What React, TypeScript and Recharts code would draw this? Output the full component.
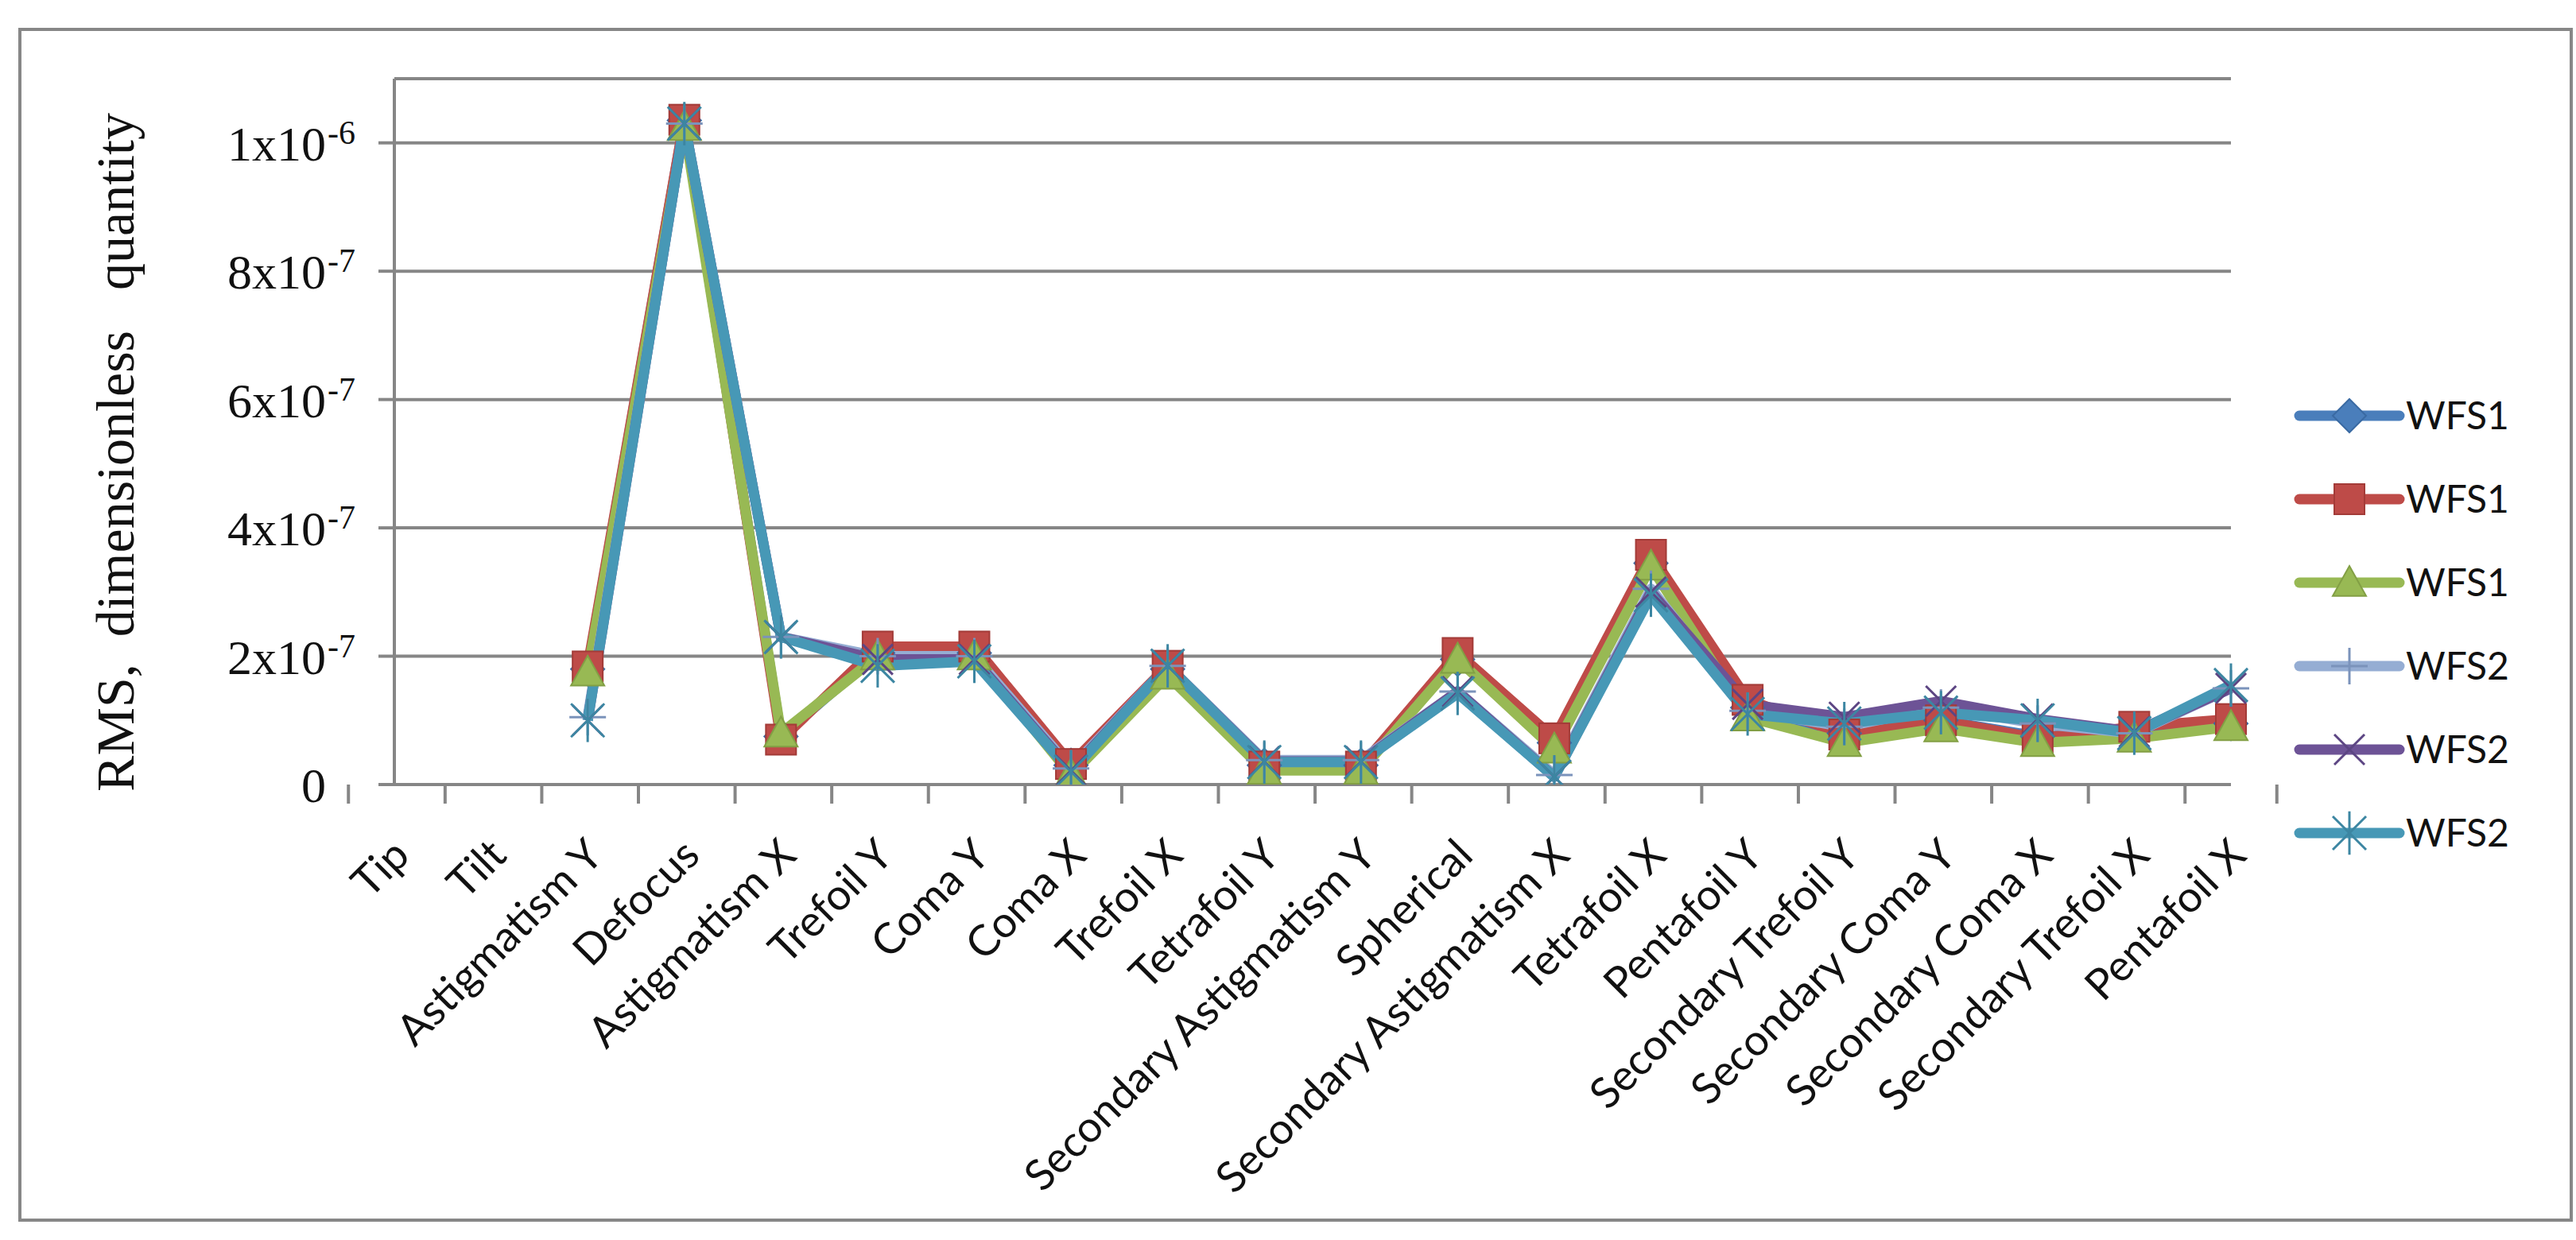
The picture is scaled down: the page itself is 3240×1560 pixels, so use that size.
import React from "react";
import { LineChart, Line, XAxis, YAxis, CartesianGrid } from "recharts";

const categories = [
  "Tip",
  "Tilt",
  "Astigmatism Y",
  "Defocus",
  "Astigmatism X",
  "Trefoil Y",
  "Coma Y",
  "Coma X",
  "Trefoil X",
  "Tetrafoil Y",
  "Secondary Astigmatism Y",
  "Spherical",
  "Secondary Astigmatism X",
  "Tetrafoil X",
  "Pentafoil Y",
  "Secondary Trefoil Y",
  "Secondary Coma Y",
  "Secondary Coma X",
  "Secondary Trefoil X",
  "Pentafoil X",
];

// values (RMS, dimensionless)
const wfs1Diamond = [null, null, 1.8e-7, 10.35e-7, 0.75e-7, 2.05e-7, 2.05e-7, 0.3e-7, 1.8e-7, 0.3e-7, 0.3e-7, 1.95e-7, 0.65e-7, 3.45e-7, 1.2e-7, 0.8e-7, 1.0e-7, 0.75e-7, 0.8e-7, 0.95e-7];
const wfs1Square = [null, null, 1.84e-7, 10.36e-7, 0.7e-7, 2.15e-7, 2.15e-7, 0.32e-7, 1.85e-7, 0.28e-7, 0.28e-7, 2.05e-7, 0.72e-7, 3.58e-7, 1.32e-7, 0.78e-7, 1.0e-7, 0.72e-7, 0.9e-7, 1.02e-7];
const wfs1Triangle = [null, null, 1.75e-7, 10.25e-7, 0.8e-7, 2.0e-7, 2.0e-7, 0.15e-7, 1.7e-7, 0.22e-7, 0.22e-7, 1.95e-7, 0.55e-7, 3.4e-7, 1.05e-7, 0.65e-7, 0.88e-7, 0.65e-7, 0.72e-7, 0.9e-7];
const wfs2Plus = [null, null, 1.05e-7, 10.3e-7, 2.3e-7, 2.0e-7, 2.0e-7, 0.25e-7, 1.85e-7, 0.38e-7, 0.38e-7, 1.45e-7, 0.15e-7, 3.05e-7, 1.15e-7, 0.9e-7, 1.2e-7, 0.95e-7, 0.8e-7, 1.5e-7];
const wfs2Cross = [null, null, 1.0e-7, 10.3e-7, 2.3e-7, 1.95e-7, 1.95e-7, 0.22e-7, 1.85e-7, 0.36e-7, 0.36e-7, 1.45e-7, 0.12e-7, 3.0e-7, 1.25e-7, 1.05e-7, 1.3e-7, 1.02e-7, 0.82e-7, 1.5e-7];
const wfs2Star = [null, null, 1.0e-7, 10.3e-7, 2.3e-7, 1.85e-7, 1.92e-7, 0.2e-7, 1.85e-7, 0.35e-7, 0.35e-7, 1.42e-7, 0.12e-7, 2.95e-7, 1.1e-7, 0.95e-7, 1.12e-7, 1.0e-7, 0.8e-7, 1.55e-7];

const yTicks = [0, 2e-7, 4e-7, 6e-7, 8e-7, 1e-6];
const yTickLabels = [
  ["0", ""],
  ["2x10", "-7"],
  ["4x10", "-7"],
  ["6x10", "-7"],
  ["8x10", "-7"],
  ["1x10", "-6"],
];

const SERIES = [
  { key: "s1", name: "WFS1", values: wfs1Diamond, color: "#4A7EBB", edge: "#3A6AA3", marker: "diamond" },
  { key: "s2", name: "WFS1", values: wfs1Square, color: "#BE4B48", edge: "#A33B38", marker: "square" },
  { key: "s3", name: "WFS1", values: wfs1Triangle, color: "#98B954", edge: "#829F44", marker: "triangle" },
  { key: "s4", name: "WFS2", values: wfs2Plus, color: "#95ADD3", edge: "#7B93BB", marker: "plus" },
  { key: "s5", name: "WFS2", values: wfs2Cross, color: "#6D5396", edge: "#5C4583", marker: "cross" },
  { key: "s6", name: "WFS2", values: wfs2Star, color: "#4798B6", edge: "#3C86A2", marker: "star" },
];

const data = categories.map((name, i) => {
  const row: Record<string, any> = { name };
  SERIES.forEach((s) => (row[s.key] = s.values[i]));
  return row;
});

const W = 3240;
const H = 1560;
const PLOT_LEFT = 496;
const PLOT_TOP = 99;
const PLOT_RIGHT = 2806;
const PLOT_BOTTOM = 987;
const GRID = "#868686";

function Marker({ shape, cx, cy, color, edge }: any) {
  if (cx == null || cy == null || isNaN(cx) || isNaN(cy)) return <g />;
  switch (shape) {
    case "diamond": {
      const h = 21;
      return <path d={`M${cx},${cy - h}L${cx + h},${cy}L${cx},${cy + h}L${cx - h},${cy}Z`} fill={color} stroke={edge} strokeWidth={2} />;
    }
    case "square": {
      const h = 19;
      return <rect x={cx - h} y={cy - h} width={2 * h} height={2 * h} fill={color} stroke={edge} strokeWidth={2} />;
    }
    case "triangle": {
      const h = 21;
      return <path d={`M${cx},${cy - h}L${cx + h},${cy + h * 0.8}L${cx - h},${cy + h * 0.8}Z`} fill={color} stroke={edge} strokeWidth={2} />;
    }
    case "plus": {
      const h = 23;
      return (
        <g stroke={edge} strokeWidth={3}>
          <line x1={cx - h} y1={cy} x2={cx + h} y2={cy} />
          <line x1={cx} y1={cy - h} x2={cx} y2={cy + h} />
        </g>
      );
    }
    case "cross": {
      const h = 19;
      return (
        <g stroke={edge} strokeWidth={3}>
          <line x1={cx - h} y1={cy - h} x2={cx + h} y2={cy + h} />
          <line x1={cx - h} y1={cy + h} x2={cx + h} y2={cy - h} />
        </g>
      );
    }
    default: {
      const h = 21;
      return (
        <g stroke={edge} strokeWidth={3}>
          <line x1={cx - h} y1={cy - h} x2={cx + h} y2={cy + h} />
          <line x1={cx - h} y1={cy + h} x2={cx + h} y2={cy - h} />
          <line x1={cx} y1={cy - h * 1.3} x2={cx} y2={cy + h * 1.3} />
        </g>
      );
    }
  }
}

function XTick({ x, y, payload, index }: any) {
  const band = (PLOT_RIGHT - PLOT_LEFT) / categories.length;
  return (
    <g>
      <line x1={x - band / 2} y1={y} x2={x - band / 2} y2={y + 24} stroke={GRID} strokeWidth={4} />
      {index === categories.length - 1 && (
        <line x1={x + band / 2} y1={y} x2={x + band / 2} y2={y + 24} stroke={GRID} strokeWidth={4} />
      )}
      <text
        transform={`translate(${x + 22},${y + 92}) rotate(-45)`}
        textAnchor="end"
        fontFamily="Lato, 'Open Sans', sans-serif"
        fontSize={54}
        fill="#111"
      >
        {payload.value}
      </text>
    </g>
  );
}

function YTick({ x, y, index }: any) {
  const [base, exp] = yTickLabels[index] || ["", ""];
  const bx = x - 66;
  return (
    <g fontFamily="'Liberation Serif', 'Times New Roman', serif" fill="#111">
      <text x={bx} y={y + 22} textAnchor="end" fontSize={62}>
        {base}
      </text>
      {exp && (
        <text x={bx + 2} y={y + 1} textAnchor="start" fontSize={42}>
          {exp}
        </text>
      )}
    </g>
  );
}

function YTitle() {
  return (
    <text
      transform={`translate(168,569) rotate(-90)`}
      textAnchor="middle"
      fontFamily="'Liberation Serif', 'Times New Roman', serif"
      fontSize={68}
      fill="#111"
      style={{ whiteSpace: "pre" }}
    >
      {"RMS,  dimensionless   quantity"}
    </text>
  );
}

function LegendBox() {
  return (
    <svg width={W} height={H} style={{ position: "absolute", left: 0, top: 0, pointerEvents: "none" }}>
      {SERIES.map((s, i) => {
        const cy = 523 + i * 105;
        return (
          <g key={s.key}>
            <line x1={2892} y1={cy} x2={3018} y2={cy} stroke={s.color} strokeWidth={13} strokeLinecap="round" />
            <Marker shape={s.marker} cx={2955} cy={cy} color={s.color} edge={s.edge} />
            <text x={3026} y={cy + 17} fontFamily="Lato, sans-serif" fontSize={48} fill="#111">
              {s.name}
            </text>
          </g>
        );
      })}
    </svg>
  );
}

export default function App() {
  return (
    <div style={{ position: "absolute", left: 0, top: 0, width: W, height: H, background: "#fff" }}>
      <div
        style={{
          position: "absolute",
          left: 23,
          top: 35,
          width: 3205,
          height: 1494,
          border: "4px solid #878787",
        }}
      />
      <div style={{ position: "absolute", left: 0, top: 0 }}>
        <LineChart
          width={W}
          height={H}
          data={data}
          margin={{ top: PLOT_TOP, right: W - PLOT_RIGHT, left: 0, bottom: 0 }}
        >
          <CartesianGrid horizontal vertical={false} stroke={GRID} strokeWidth={4} />
          <XAxis
            dataKey="name"
            interval={0}
            height={H - PLOT_BOTTOM}
            tickLine={false}
            tickSize={0}
            tickMargin={0}
            axisLine={{ stroke: GRID, strokeWidth: 4 }}
            tick={<XTick />}
          />
          <YAxis
            width={PLOT_LEFT}
            domain={[0, 1.1e-6]}
            ticks={yTicks}
            allowDataOverflow
            tickSize={20}
            tickMargin={0}
            tickLine={{ stroke: GRID, strokeWidth: 4 }}
            axisLine={{ stroke: GRID, strokeWidth: 4 }}
            tick={<YTick />}
            label={<YTitle />}
          />
          {SERIES.map((s) => (
            <Line
              key={s.key}
              dataKey={s.key}
              name={s.name}
              type="linear"
              stroke={s.color}
              strokeWidth={13}
              strokeLinejoin="round"
              isAnimationActive={false}
              dot={(p: any) => <Marker key={`${s.key}-${p.index}`} shape={s.marker} cx={p.cx} cy={p.cy} color={s.color} edge={s.edge} />}
              activeDot={false}
            />
          ))}
        </LineChart>
      </div>
      <LegendBox />
    </div>
  );
}
